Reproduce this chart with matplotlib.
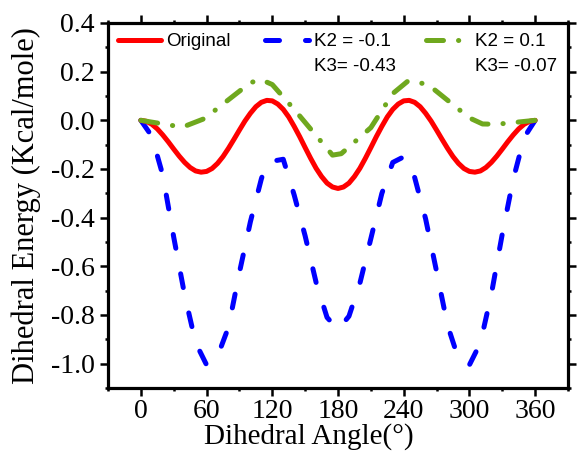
import matplotlib
matplotlib.use("Agg")
import matplotlib.pyplot as plt
from matplotlib.ticker import FixedLocator, MultipleLocator, FormatStrFormatter

plt.rcParams["axes.unicode_minus"] = False

# Original dihedral profile (5 degree steps)
angle_original = list(range(0, 361, 5))
energy_original = [
    0.000, -0.004, -0.016, -0.035, -0.060, -0.088, -0.118, -0.147, -0.173, -0.194,
    -0.208, -0.213, -0.210, -0.198, -0.177, -0.149, -0.115, -0.078, -0.040, -0.003,
    0.029, 0.056, 0.074, 0.082, 0.080, 0.067, 0.045, 0.014, -0.025, -0.067,
    -0.112, -0.156, -0.197, -0.231, -0.258, -0.274, -0.280,
    -0.274, -0.258, -0.231, -0.197, -0.156, -0.112, -0.067, -0.025, 0.014,
    0.045, 0.067, 0.080, 0.082, 0.074, 0.056, 0.029, -0.003, -0.040, -0.078,
    -0.115, -0.149, -0.177, -0.198, -0.210, -0.213, -0.208, -0.194, -0.173,
    -0.147, -0.118, -0.088, -0.060, -0.035, -0.016, -0.004, 0.000,
]

# K2 = -0.1, K3 = -0.43
angle_k2_neg = [0, 10, 20, 30, 40, 50, 60, 70, 80, 90, 100, 110, 115, 130, 140, 150,
                160, 170, 180, 190, 200, 210, 220, 230, 240, 250, 260, 270, 280, 290,
                300, 310, 320, 330, 340, 350, 360]
energy_k2_neg = [0.0, -0.065, -0.225, -0.48, -0.718, -0.914, -1.005, -0.97, -0.85,
                 -0.625, -0.417, -0.241, -0.172, -0.16, -0.307, -0.475, -0.666, -0.81,
                 -0.86, -0.805, -0.669, -0.486, -0.301, -0.173, -0.15, -0.235, -0.405,
                 -0.621, -0.842, -0.98, -1.005, -0.915, -0.715, -0.467, -0.242, -0.07, 0.0]

# K2 = 0.1, K3 = -0.07
angle_k2_pos = [0, 38, 58, 100, 110, 120, 140, 175, 183, 210, 230, 244, 262, 300,
                312, 325, 360]
energy_k2_pos = [0.0, -0.028, 0.007, 0.155, 0.167, 0.147, 0.045, -0.143, -0.137,
                 -0.03, 0.11, 0.162, 0.148, 0.01, -0.015, -0.016, 0.0]

x_ticks = [0, 60, 120, 180, 240, 300, 360]
y_ticks = [0.4, 0.2, 0.0, -0.2, -0.4, -0.6, -0.8, -1.0]

series_labels = ["Original", "K2 = -0.1", "K2 = 0.1"]
second_lines = ["K3= -0.43", "K3= -0.07"]

SERIF = "Liberation Serif"
SANS = "Liberation Sans"

fig = plt.figure(figsize=(5.78, 4.51), dpi=100)
W, H = 578.0, 451.0
ax = fig.add_axes([108 / W, 1 - 388 / H, 460 / W, 365 / H])

lw = 3.6
ax.plot(angle_original, energy_original, color="#FF0000", lw=lw,
        solid_capstyle="round", solid_joinstyle="round",
        label=series_labels[0], zorder=3)
ax.plot(angle_k2_neg, energy_k2_neg, color="#0000FF", lw=lw,
        linestyle=(0, (2.8, 5.2)), dash_capstyle="round", dash_joinstyle="round",
        label=series_labels[1], zorder=2)
ax.plot(angle_k2_pos, energy_k2_pos, color="#6FA81E", lw=lw,
        linestyle=(0, (3.4, 3.0, 0.05, 3.0)), dash_capstyle="round",
        dash_joinstyle="round", label=series_labels[2], zorder=4)

ax.set_xlim(-30, 390)
ax.set_ylim(-1.1, 0.4)
ax.xaxis.set_major_locator(FixedLocator(x_ticks))
ax.xaxis.set_minor_locator(MultipleLocator(30))
ax.yaxis.set_major_locator(FixedLocator(y_ticks))
ax.yaxis.set_minor_locator(MultipleLocator(0.1))
ax.yaxis.set_major_formatter(FormatStrFormatter("%.1f"))
ax.xaxis.set_major_formatter(FormatStrFormatter("%d"))

for s in ax.spines.values():
    s.set_linewidth(2.3)

ax.tick_params(which="both", direction="out", top=True, right=True, width=1.8)
ax.tick_params(which="major", length=6)
ax.tick_params(which="minor", length=2.5)
ax.tick_params(axis="x", which="major", pad=2, labelsize=20)
ax.tick_params(axis="y", which="major", pad=3.5, labelsize=20)
for lab in ax.get_xticklabels() + ax.get_yticklabels():
    lab.set_fontfamily(SERIF)

ax.set_xlabel("Dihedral Angle(°)", fontsize=21, family=SERIF)
ax.set_ylabel("Dihedral Energy (Kcal/mole)", fontsize=22, family=SERIF)
ax.xaxis.set_label_coords(0.437, -0.097)
ax.yaxis.set_label_coords(-0.145, 0.5)

leg = ax.legend(loc="center left", bbox_to_anchor=(0.0207, 0.949), ncol=3,
                frameon=False, prop={"family": SANS, "size": 13.5},
                handlelength=2.3, handletextpad=0.3, columnspacing=1.85,
                borderpad=0, borderaxespad=0)

fig.canvas.draw()
for text, extra in zip(leg.get_texts()[1:], second_lines):
    x0, y0 = text.get_transform().transform(text.get_position())
    fig.text(x0 / W, (y0 - 25) / H, extra, ha="left", va="baseline",
             family=SANS, fontsize=13.5)

fig.savefig("out.png", dpi=100)
